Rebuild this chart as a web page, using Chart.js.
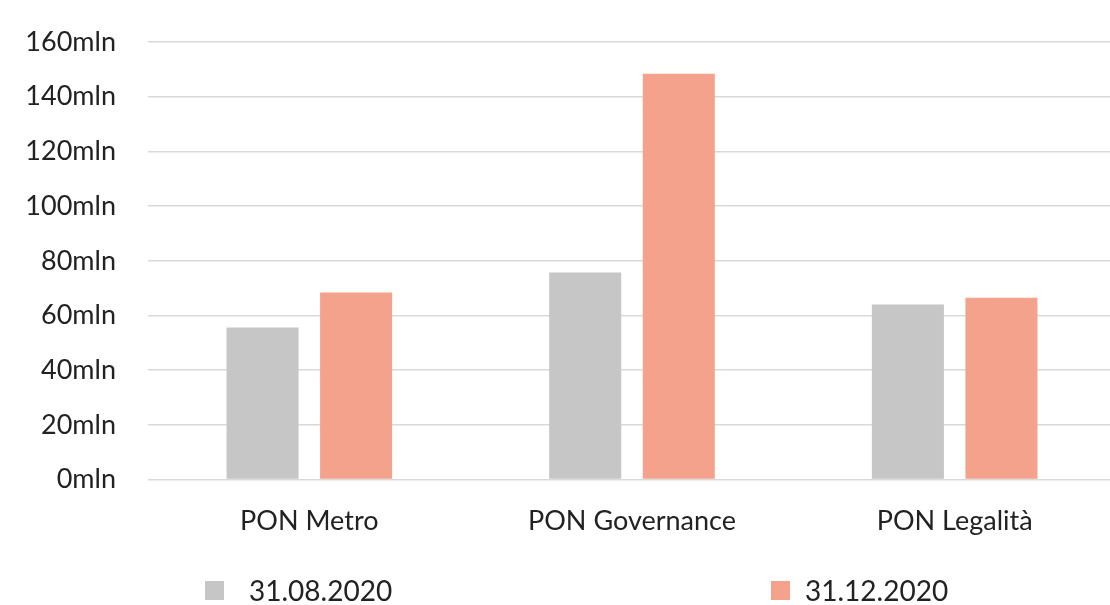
<!DOCTYPE html>
<html>
<head>
<meta charset="utf-8">
<script src="https://cdn.jsdelivr.net/npm/chart.js@4"></script>
<style>
  html, body { margin: 0; padding: 0; background: #fff; overflow: hidden; }
  #wrap { position: relative; width: 1110px; height: 605px; overflow: hidden; }
  #legenda { position: absolute; left: 0; top: 0; width: 1110px; height: 605px; pointer-events: none; }
  .voce { position: absolute; top: 577px; display: flex; align-items: center; height: 26px; }
  .voce span.box { display: inline-block; width: 19px; height: 19px; }
  .voce span.txt { font-family: Lato, sans-serif; font-size: 28px; color: #222; line-height: 26px; }
</style>
</head>
<body>
<div id="wrap">
  <canvas id="grafico"></canvas>
  <div id="legenda"></div>
</div>
<script>
const categorie = ['PON Metro', 'PON Governance', 'PON Legalità'];
const serieNomi = ['31.08.2020', '31.12.2020'];
const valoriAgosto = [55.6, 75.7, 64.0];
const valoriDicembre = [68.4, 148.4, 66.5];
const tickY = [0, 20, 40, 60, 80, 100, 120, 140, 160];
const colori = ['#c6c6c6', '#f4a28b'];

document.addEventListener('DOMContentLoaded', function () {
    const canvas = document.getElementById('grafico');
    // un po' piu' largo della finestra: l'area del grafico esce a destra come nell'originale
    canvas.width = 1116;
    canvas.height = 605;
    const ctx = canvas.getContext('2d');

    new Chart(ctx, {
        type: 'bar',
        data: {
            labels: categorie,
            datasets: [{
                label: serieNomi[0],
                data: valoriAgosto,
                backgroundColor: colori[0],
                categoryPercentage: 0.58,
                barPercentage: 0.77
            }, {
                label: serieNomi[1],
                data: valoriDicembre,
                backgroundColor: colori[1],
                categoryPercentage: 0.58,
                barPercentage: 0.77
            }]
        },
        options: {
            responsive: false,
            animation: false,
            layout: {
                padding: { top: 42, right: 0, bottom: 51, left: 0 }
            },
            plugins: {
                legend: { display: false },
                tooltip: { enabled: false }
            },
            scales: {
                x: {
                    grid: { display: false },
                    border: { display: false },
                    ticks: {
                        color: '#222',
                        padding: 17,
                        font: { family: 'Lato', size: 27 }
                    }
                },
                y: {
                    min: 0,
                    max: 160,
                    afterFit: function (scale) {
                        scale.width = 148;
                        scale.paddingTop = 0;
                        scale.paddingBottom = 0;
                    },
                    afterBuildTicks: function (scale) {
                        scale.ticks = tickY.map(v => ({ value: v }));
                    },
                    grid: { color: '#d9d9d9', lineWidth: 1.5, drawTicks: false },
                    border: { display: false },
                    ticks: {
                        color: '#222',
                        padding: 32,
                        font: { family: 'Lato', size: 27 },
                        callback: function (v) { return v + 'mln'; }
                    }
                }
            }
        }
    });

    // legenda a mano, le voci sono molto distanti
    const posizioni = [{ box: 205, txt: 249 }, { box: 771, txt: 805 }];
    const legenda = document.getElementById('legenda');
    serieNomi.forEach((nome, i) => {
        const voce = document.createElement('div');
        voce.className = 'voce';
        voce.style.left = posizioni[i].box + 'px';
        const box = document.createElement('span');
        box.className = 'box';
        box.style.background = colori[i];
        box.style.marginRight = (posizioni[i].txt - posizioni[i].box - 19) + 'px';
        const txt = document.createElement('span');
        txt.className = 'txt';
        txt.textContent = nome;
        voce.appendChild(box);
        voce.appendChild(txt);
        legenda.appendChild(voce);
    });
});
</script>
</body>
</html>
